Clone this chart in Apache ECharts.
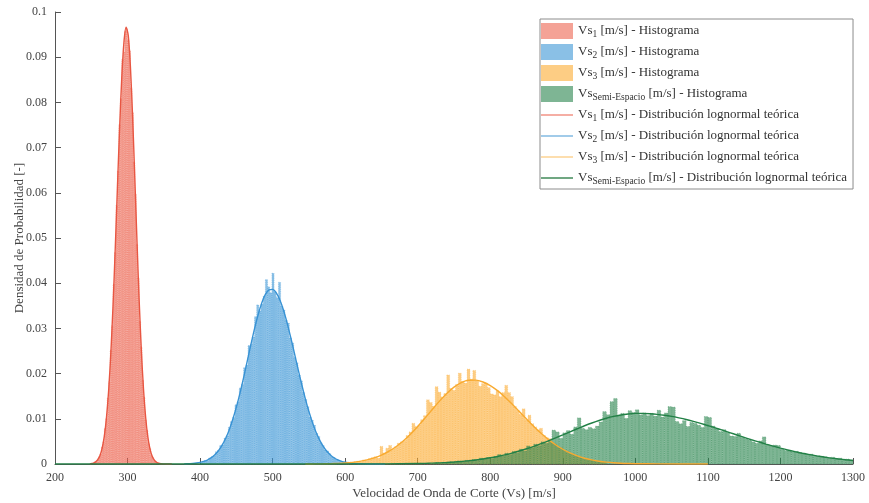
<!DOCTYPE html>
<html>
<head>
<meta charset="utf-8">
<script src="https://cdn.jsdelivr.net/npm/echarts@6/dist/echarts.min.js"></script>
<style>
  html, body { margin: 0; padding: 0; background: #fff; }
  #chart { width: 869px; height: 503px; }
</style>
</head>
<body>
<div id="chart"></div>
<script>
// Histogram bins: first bin edge, bin width and densities per layer
const vs1BinStart = 252, vs1BinWidth = 2;
const vs1Hist = [0.0002,0.0004,0.0005,0.0011,0.0016,0.0022,0.0037,0.0049,0.0078,0.0101,0.0146,0.0182,0.0252,0.0306,0.0398,0.0468,0.0572,0.0648,0.0751,0.0808,0.0895,0.0912,0.0958,0.0962,0.0938,0.0915,0.0832,0.0778,0.0668,0.0598,0.0486,0.0412,0.0316,0.0259,0.0186,0.0148,0.0098,0.0075,0.0046,0.0035,0.0019,0.0015,0.0007,0.0006,0.0003,0.0002,0.0001,0.0001];

const vs2BinStart = 400, vs2BinWidth = 3;
const vs2Hist = [0.0003,0.0006,0.0008,0.0007,0.0013,0.0016,0.0018,0.0027,0.0030,0.0041,0.0043,0.0057,0.0062,0.0081,0.0094,0.0103,0.0131,0.0138,0.0168,0.0176,0.0213,0.0219,0.0262,0.0265,0.0281,0.0326,0.0352,0.0339,0.0354,0.0371,0.0408,0.0392,0.0379,0.0422,0.0381,0.0368,0.0402,0.0349,0.0341,0.0318,0.0312,0.0279,0.0268,0.0236,0.0224,0.0197,0.0184,0.0158,0.0143,0.0127,0.0104,0.0097,0.0086,0.0068,0.0061,0.0047,0.0041,0.0031,0.0029,0.0023,0.0016,0.0015,0.0010,0.0009,0.0007,0.0005,0.0004,0.0003,0.0002,0.0001,0.0001];

const vs3BinStart = 600, vs3BinWidth = 4;
const vs3Hist = [0.0002,0.0004,0.0003,0.0005,0.0006,0.0005,0.0009,0.0008,0.0012,0.0014,0.0016,0.0013,0.0039,0.0024,0.0035,0.0041,0.0033,0.0038,0.0046,0.0049,0.0052,0.0063,0.0071,0.0090,0.0083,0.0086,0.0098,0.0107,0.0142,0.0136,0.0128,0.0171,0.0159,0.0148,0.0156,0.0197,0.0167,0.0163,0.0176,0.0201,0.0183,0.0179,0.0210,0.0188,0.0207,0.0184,0.0172,0.0178,0.0179,0.0169,0.0155,0.0153,0.0162,0.0149,0.0158,0.0174,0.0158,0.0149,0.0127,0.0118,0.0110,0.0122,0.0098,0.0108,0.0089,0.0082,0.0076,0.0079,0.0063,0.0058,0.0056,0.0047,0.0044,0.0037,0.0036,0.0030,0.0029,0.0023,0.0022,0.0018,0.0017,0.0014,0.0013,0.0011,0.0009,0.0009,0.0007,0.0006,0.0005,0.0004];

const vsHsBinStart = 720, vsHsBinWidth = 5;
const vsHsHist = [0.0001,0.0003,0.0002,0.0004,0.0003,0.0005,0.0004,0.0007,0.0005,0.0008,0.0006,0.0010,0.0008,0.0013,0.0011,0.0014,0.0012,0.0017,0.0021,0.0018,0.0024,0.0021,0.0028,0.0025,0.0033,0.0029,0.0040,0.0036,0.0044,0.0041,0.0049,0.0046,0.0052,0.0075,0.0071,0.0057,0.0069,0.0074,0.0066,0.0082,0.0102,0.0079,0.0076,0.0081,0.0078,0.0084,0.0093,0.0116,0.0109,0.0138,0.0145,0.0108,0.0112,0.0101,0.0118,0.0114,0.0120,0.0109,0.0113,0.0107,0.0112,0.0106,0.0119,0.0104,0.0113,0.0127,0.0126,0.0094,0.0089,0.0096,0.0083,0.0092,0.0090,0.0086,0.0081,0.0105,0.0103,0.0084,0.0078,0.0072,0.0076,0.0070,0.0062,0.0061,0.0068,0.0059,0.0056,0.0053,0.0049,0.0046,0.0051,0.0060,0.0043,0.0040,0.0042,0.0041,0.0033,0.0030,0.0029,0.0027,0.0028,0.0025,0.0024,0.0021,0.0022,0.0019,0.0018,0.0017,0.0016,0.0014,0.0015,0.0012,0.0013,0.0010,0.0011,0.0009];

// Theoretical lognormal curves (velocity, density)
const vs1CurveX = [248,250,253,256,259,262,265,268,271,274,277,280,283,286,289,292,295,298,301,304,307,310,313,316,319,322,325,328,331,334,337,340,343,346,349,355,361];
const vs1CurveY = [0.00004,0.00009,0.00021,0.00046,0.00096,0.00188,0.00350,0.00617,0.01033,0.01637,0.02463,0.03512,0.04751,0.06090,0.07404,0.08534,0.09326,0.09663,0.09478,0.08778,0.07674,0.06334,0.04935,0.03629,0.02520,0.01652,0.01022,0.00597,0.00329,0.00171,0.00084,0.00039,0.00017,0.00007,0.00003,0.00001,0];

const vs2CurveX = [378,385,390,395,400,405,410,415,420,425,430,435,440,445,450,455,460,465,470,475,480,485,490,495,500,505,510,515,520,525,530,535,540,545,550,555,560,565,570,575,580,585,590,595,600,605,610,620,640,655];
const vs2CurveY = [0.00002,0.00008,0.00013,0.00022,0.00036,0.00057,0.00088,0.00134,0.00199,0.00287,0.00405,0.00557,0.00749,0.00983,0.01257,0.01569,0.01912,0.02274,0.02639,0.02989,0.03303,0.03563,0.03751,0.03853,0.03863,0.03787,0.03630,0.03402,0.03118,0.02796,0.02453,0.02103,0.01764,0.01447,0.01160,0.00910,0.00697,0.00524,0.00384,0.00275,0.00194,0.00133,0.00089,0.00058,0.00038,0.00024,0.00014,0.00005,0.00001,0];

const vs3CurveX = [545,560,570,580,590,600,610,620,630,640,650,660,670,680,690,700,710,720,730,740,750,760,770,780,790,800,810,820,830,840,850,860,870,880,890,900,910,920,930,940,950,960,970,980,990,1000,1030,1100];
const vs3CurveY = [0.00001,0.00002,0.00004,0.00008,0.00014,0.00023,0.00037,0.00059,0.00091,0.00136,0.00198,0.00279,0.00382,0.00508,0.00658,0.00829,0.01014,0.01205,0.01391,0.01560,0.01700,0.01801,0.01853,0.01855,0.01814,0.01735,0.01623,0.01484,0.01328,0.01162,0.00995,0.00832,0.00681,0.00545,0.00426,0.00326,0.00244,0.00179,0.00128,0.00090,0.00061,0.00041,0.00027,0.00017,0.00011,0.00007,0.00002,0];

const vsHsCurveX = [200,500,650,700,710,720,730,740,750,760,770,780,790,800,810,820,830,840,850,860,870,880,890,900,910,920,930,940,950,960,970,980,990,1000,1010,1020,1030,1040,1050,1060,1070,1080,1090,1100,1110,1120,1130,1140,1150,1160,1170,1180,1190,1200,1210,1220,1230,1240,1250,1260,1270,1280,1290,1300];
const vsHsCurveY = [0,0,0.00002,0.00011,0.00014,0.00019,0.00026,0.00033,0.00043,0.00056,0.00071,0.00089,0.00111,0.00137,0.00167,0.00202,0.00242,0.00287,0.00337,0.00391,0.00450,0.00513,0.00578,0.00645,0.00713,0.00780,0.00846,0.00907,0.00963,0.01012,0.01053,0.01085,0.01107,0.01119,0.01119,0.01112,0.01099,0.01079,0.01053,0.01021,0.00985,0.00943,0.00898,0.00850,0.00800,0.00749,0.00696,0.00642,0.00589,0.00537,0.00488,0.00440,0.00394,0.00351,0.00310,0.00273,0.00239,0.00207,0.00179,0.00154,0.00131,0.00111,0.00094,0.00079];

// Layer labels and axis ticks
const layerSubscripts = ['1', '2', '3', 'Semi-Espacio'];
const histSuffix = '[m/s] - Histograma';
const curveSuffix = '[m/s] - Distribución lognormal teórica';
const xTicks = [200,300,400,500,600,700,800,900,1000,1100,1200,1300];
const yTicks = [0,0.01,0.02,0.03,0.04,0.05,0.06,0.07,0.08,0.09,0.1];
const xAxisTitle = 'Velocidad de Onda de Corte (Vs) [m/s]';
const yAxisTitle = 'Densidad de Probabilidad [-]';

const layerColors = ['rgb(232,86,66)', 'rgb(56,146,212)', 'rgb(248,170,48)', 'rgb(34,128,70)'];
const histFill = ['rgba(236,100,80,0.6)', 'rgba(60,150,214,0.6)', 'rgba(252,172,50,0.6)', 'rgba(40,132,76,0.6)'];
const histEdge = ['rgba(236,100,80,0.55)', 'rgba(60,150,214,0.55)', 'rgba(252,172,50,0.55)', 'rgba(40,132,76,0.55)'];
const legendLineColors = ['rgb(240,130,115)', 'rgb(110,175,222)', 'rgb(252,205,130)', 'rgb(34,120,62)'];
const FONT = "'Liberation Serif', 'DejaVu Serif', serif";
// Legend icons share a 32x20 frame so every row has the same height
const RECT_ICON = 'path://M0,0M32,20M0,2H32V18H0Z';
const LINE_ICON = 'path://M0,0M32,20M0,9.35H32V10.65H0Z';

const histLayers = [
  { start: vs1BinStart, width: vs1BinWidth, values: vs1Hist },
  { start: vs2BinStart, width: vs2BinWidth, values: vs2Hist },
  { start: vs3BinStart, width: vs3BinWidth, values: vs3Hist },
  { start: vsHsBinStart, width: vsHsBinWidth, values: vsHsHist }
];
const curveLayers = [
  [vs1CurveX, vs1CurveY], [vs2CurveX, vs2CurveY], [vs3CurveX, vs3CurveY], [vsHsCurveX, vsHsCurveY]
];

function seriesName(i, suffix) { return 'Vs_' + layerSubscripts[i] + ' ' + suffix; }

function histRenderer(binWidth, fill, edge) {
  return function (params, api) {
    const x0 = api.value(0);
    const v = api.value(1);
    const topLeft = api.coord([x0, v]);
    const bottomRight = api.coord([x0 + binWidth, 0]);
    return {
      type: 'rect',
      shape: { x: topLeft[0], y: topLeft[1], width: bottomRight[0] - topLeft[0], height: bottomRight[1] - topLeft[1] },
      style: { fill: fill, stroke: edge, lineWidth: 0.6, lineDash: [1, 1.2] }
    };
  };
}

const series = [];
histLayers.forEach(function (h, i) {
  series.push({
    type: 'custom',
    name: seriesName(i, histSuffix),
    renderItem: histRenderer(h.width, histFill[i], histEdge[i]),
    encode: { x: 0, y: 1 },
    itemStyle: { color: histFill[i] },
    data: h.values.map(function (v, k) { return [h.start + k * h.width, v]; }),
    z: 2 + i
  });
});
curveLayers.forEach(function (c, i) {
  series.push({
    type: 'line',
    name: seriesName(i, curveSuffix),
    symbol: 'none',
    smooth: 0.3,
    lineStyle: { color: layerColors[i], width: 1.4 },
    itemStyle: { color: layerColors[i] },
    data: c[0].map(function (x, k) { return [x, c[1][k]]; }),
    z: 10 + i
  });
});

const legendData = [];
for (let i = 0; i < 4; i++) {
  legendData.push({ name: seriesName(i, histSuffix), icon: RECT_ICON,
    itemStyle: { color: histFill[i], borderWidth: 0 } });
}
for (let i = 0; i < 4; i++) {
  legendData.push({ name: seriesName(i, curveSuffix), icon: LINE_ICON,
    itemStyle: { color: legendLineColors[i], borderWidth: 0 } });
}

const chart = echarts.init(document.getElementById('chart'), null, { renderer: 'canvas' });
chart.setOption({
  animation: false,
  backgroundColor: '#fff',
  textStyle: { fontFamily: FONT },
  grid: { left: 55, right: 16, top: 12, bottom: 39, containLabel: false, outerBoundsMode: 'none' },
  legend: {
    data: legendData,
    orient: 'vertical',
    left: 540,
    top: 19,
    padding: [2, 6, 1, 1],
    itemGap: 1,
    itemWidth: 32,
    itemHeight: 20,
    symbolKeepAspect: true,
    backgroundColor: '#fff',
    borderColor: '#8c8c8c',
    borderWidth: 1,
    borderRadius: 0,
    selectedMode: false,
    formatter: function (name) {
      const m = name.match(/^Vs_(\S+) (.*)$/);
      return '{n|Vs}{s|' + m[1] + '}{n| ' + m[2] + '}';
    },
    textStyle: {
      fontFamily: FONT,
      color: '#333',
      rich: {
        n: { fontFamily: FONT, fontSize: 13, color: '#333', lineHeight: 18, verticalAlign: 'middle' },
        s: { fontFamily: FONT, fontSize: 9.5, color: '#333', lineHeight: 18, verticalAlign: 'bottom', padding: [0, 0, 1, 0] }
      }
    }
  },
  xAxis: {
    type: 'value',
    min: 200, max: 1300, interval: 100,
    name: xAxisTitle,
    nameLocation: 'middle',
    nameGap: 23,
    nameMoveOverlap: false,
    nameTextStyle: { fontFamily: FONT, fontSize: 13, color: '#444' },
    axisLine: { show: true, lineStyle: { color: '#555', width: 1 } },
    axisTick: { show: true, inside: true, length: 6, lineStyle: { color: '#555' } },
    axisLabel: { fontFamily: FONT, fontSize: 12, color: '#444', margin: 8,
      formatter: function (v) { return xTicks.indexOf(v) >= 0 ? String(v) : ''; } },
    splitLine: { show: false }
  },
  yAxis: {
    type: 'value',
    min: 0, max: 0.1, interval: 0.01,
    name: yAxisTitle,
    nameLocation: 'middle',
    nameGap: 29,
    nameMoveOverlap: false,
    nameTextStyle: { fontFamily: FONT, fontSize: 13, color: '#444' },
    axisLine: { show: true, lineStyle: { color: '#555', width: 1 } },
    axisTick: { show: true, inside: true, length: 6, lineStyle: { color: '#555' } },
    axisLabel: { fontFamily: FONT, fontSize: 12, color: '#444', margin: 8,
      formatter: function (v) {
        const t = yTicks.find(function (y) { return Math.abs(y - v) < 1e-9; });
        return t === undefined ? '' : String(t);
      } },
    splitLine: { show: false }
  },
  series: series
});
</script>
</body>
</html>
